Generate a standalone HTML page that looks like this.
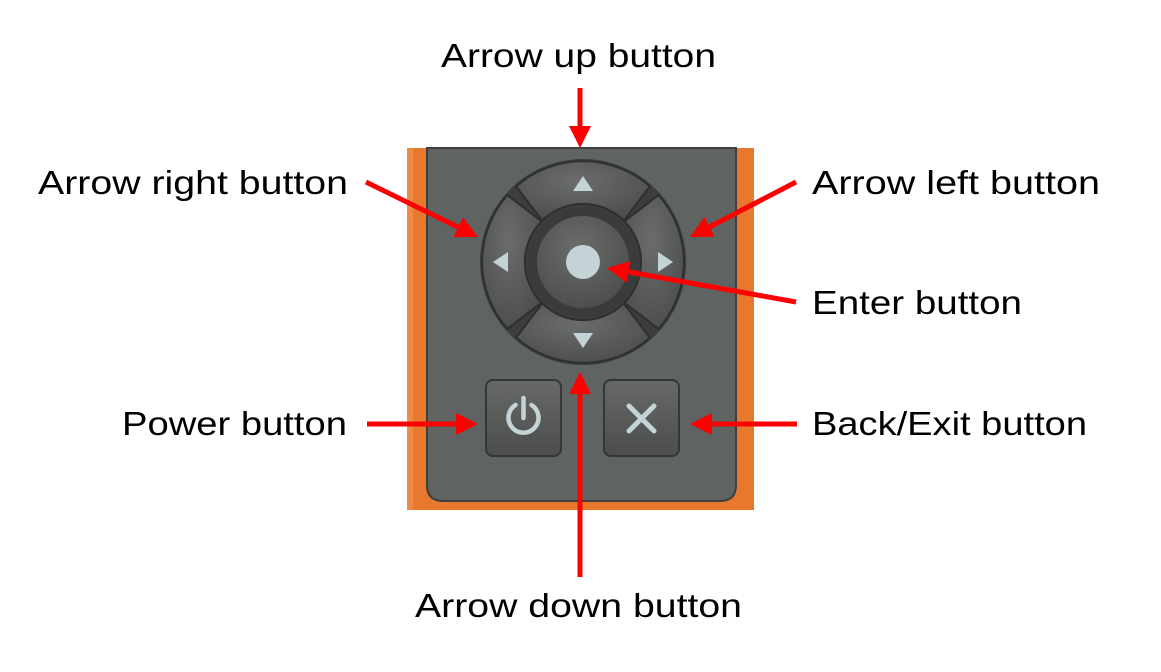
<!DOCTYPE html>
<html><head><meta charset="utf-8"><style>
html,body{margin:0;padding:0;background:#fff;width:1161px;height:672px;overflow:hidden}
text{font-family:"Liberation Sans",sans-serif;font-size:33px;fill:#000}
</style></head><body>
<svg id="s" width="1161" height="672" viewBox="0 0 1161 672" xmlns="http://www.w3.org/2000/svg">
<defs>
<radialGradient id="btn" cx="45%" cy="35%" r="70%"><stop offset="0" stop-color="#6a6d6b"/><stop offset="1" stop-color="#4b4d4c"/></radialGradient>
<linearGradient id="sq" x1="0" y1="0" x2="0" y2="1"><stop offset="0" stop-color="#666967"/><stop offset="1" stop-color="#4c4e4d"/></linearGradient>
</defs>
<rect x="407" y="148" width="347" height="362" fill="#e9782f"/>
<rect x="407" y="148" width="6" height="362" fill="#f08a45"/>
<path d="M427 148 H736 V485 Q736 501 720 501 H443 Q427 501 427 485 Z" fill="#5f6361" stroke="#3e403f" stroke-width="2"/>
<circle cx="583" cy="262" r="103" fill="#3c3e3d"/>
<g id="dpad"></g>
<circle cx="583" cy="262" r="55" fill="#3a3c3b"/>
<circle cx="583" cy="262" r="46" fill="url(#btn)"/>
<circle cx="583" cy="262" r="17" fill="#c4d3d6"/>
<polygon points="583,176 573,191 593,191" fill="#c4d3d6"/>
<polygon points="583,348 573,333 593,333" fill="#c4d3d6"/>
<polygon points="493,262 508,252 508,272" fill="#c4d3d6"/>
<polygon points="673,262 658,252 658,272" fill="#c4d3d6"/>
<rect x="486" y="380" width="75" height="76" rx="7" fill="url(#sq)" stroke="#353736" stroke-width="2"/>
<rect x="604" y="380" width="75" height="76" rx="7" fill="url(#sq)" stroke="#353736" stroke-width="2"/>
<path d="M515.5 405 A15 15 0 1 0 531.5 405" fill="none" stroke="#c4d3d6" stroke-width="4.5" stroke-linecap="round"/>
<line x1="523.5" y1="398" x2="523.5" y2="418" stroke="#c4d3d6" stroke-width="4.5" stroke-linecap="round"/>
<path d="M629 406 L654 431 M654 406 L629 431" stroke="#c4d3d6" stroke-width="5" stroke-linecap="round"/>
<g id="arrows" fill="#ff0000" stroke="#ff0000"></g>
<text x="441" y="67" textLength="275" lengthAdjust="spacingAndGlyphs">Arrow up button</text>
<text x="38" y="194" textLength="310" lengthAdjust="spacingAndGlyphs">Arrow right button</text>
<text x="812" y="194" textLength="288" lengthAdjust="spacingAndGlyphs">Arrow left button</text>
<text x="812" y="314" textLength="210" lengthAdjust="spacingAndGlyphs">Enter button</text>
<text x="122" y="435" textLength="225" lengthAdjust="spacingAndGlyphs">Power button</text>
<text x="812" y="435" textLength="275" lengthAdjust="spacingAndGlyphs">Back/Exit button</text>
<text x="415" y="617" textLength="327" lengthAdjust="spacingAndGlyphs">Arrow down button</text>
</svg>
<script>
var NS="http://www.w3.org/2000/svg",cx=583,cy=262,ri=58,ro=101;
var d=document.getElementById("dpad");
[-90,0,90,180].forEach(function(a){
 var h=41.5,r=Math.PI/180;
 function p(R,t){return (cx+R*Math.cos(t*r)).toFixed(1)+" "+(cy+R*Math.sin(t*r)).toFixed(1);}
 var path="M"+p(ro,a-h)+" A"+ro+" "+ro+" 0 0 1 "+p(ro,a+h)+" L"+p(ri,a+h+3)+" A"+ri+" "+ri+" 0 0 0 "+p(ri,a-h-3)+" Z";
 var e=document.createElementNS(NS,"path");e.setAttribute("d",path);e.setAttribute("fill","url(#btn)");
 e.setAttribute("stroke","#2e302f");e.setAttribute("stroke-width","2");e.setAttribute("stroke-linejoin","round");d.appendChild(e);
});
var g=document.getElementById("arrows");
function arr(x1,y1,x2,y2){
 var dx=x2-x1,dy=y2-y1,L=Math.hypot(dx,dy),ux=dx/L,uy=dy/L,hl=22,hw=11;
 var bx=x2-ux*hl,by=y2-uy*hl;
 var l=document.createElementNS(NS,"line");
 l.setAttribute("x1",x1);l.setAttribute("y1",y1);l.setAttribute("x2",bx);l.setAttribute("y2",by);l.setAttribute("stroke-width","5");g.appendChild(l);
 var t=document.createElementNS(NS,"polygon");
 t.setAttribute("points",x2+","+y2+" "+(bx-uy*hw)+","+(by+ux*hw)+" "+(bx+uy*hw)+","+(by-ux*hw));
 t.setAttribute("stroke","none");g.appendChild(t);
}
arr(580,88,580,148);
arr(366,182,478,237);
arr(796,182,690,237);
arr(796,302,607,268);
arr(367,424,478,424);
arr(797,424,690,424);
arr(580,577,580,372);
</script>
</body></html>
